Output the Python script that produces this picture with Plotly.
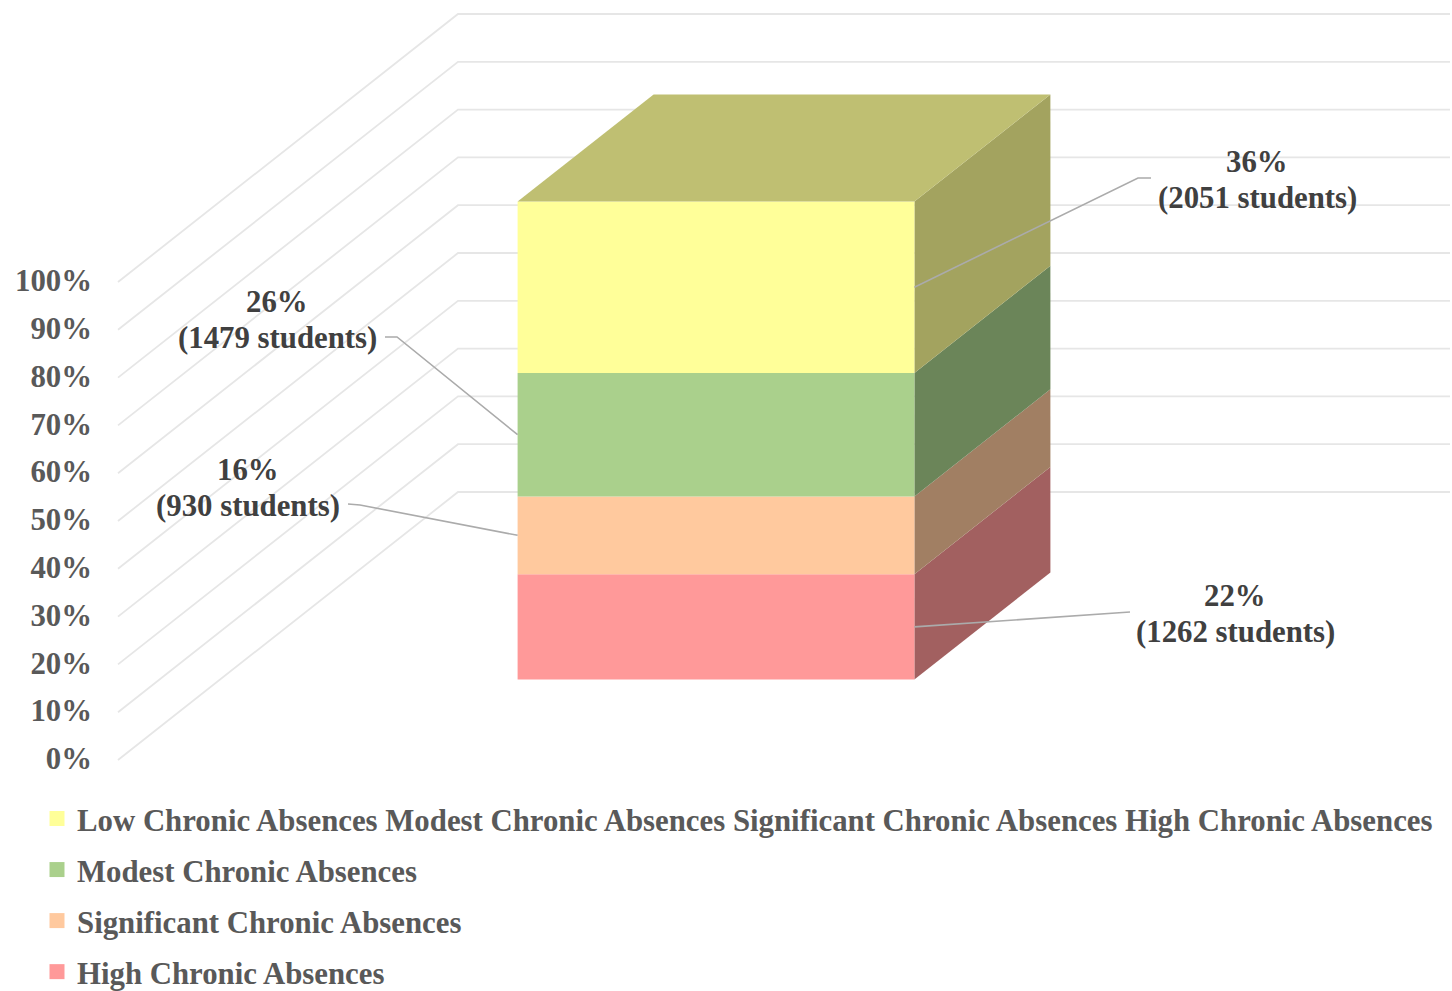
import plotly.graph_objects as go

# ---- data ----
categories = ["High Chronic Absences", "Significant Chronic Absences", "Modest Chronic Absences", "Low Chronic Absences"]
students = [1262, 930, 1479, 2051]
percent_labels = ["22%", "16%", "26%", "36%"]
legend_names = [
    "Low Chronic Absences Modest Chronic Absences Significant Chronic Absences High Chronic Absences",
    "Modest Chronic Absences",
    "Significant Chronic Absences",
    "High Chronic Absences",
]
tick_values = [0, 10, 20, 30, 40, 50, 60, 70, 80, 90, 100]

# ---- styling ----
front = ["#FF9999", "#FFC99E", "#AAD08C", "#FFFF99"]
side = ["#A26060", "#A17F63", "#6B8559", "#A3A35F"]
top_colour = "#BFBF72"
grid = "#E6E6E6"
leader = "#ABABAB"
FONT = "Liberation Serif"
FS = 30.8
W, H = 1452, 991

# oblique projection of the 3-D chart box onto the page
X0, Y0, BOX_W, UNIT_H, DEPTH_X, DEPTH_Y = 118, 760, 992, 4.78, 340, 268
BAR_A, BAR_B = 0.3, 0.7


def proj(x, y, z):
    return X0 + BOX_W * x + DEPTH_X * z, Y0 - UNIT_H * y - DEPTH_Y * z


def poly(points, colour, name=""):
    pts = [proj(*p) for p in points]
    return go.Scatter(
        x=[p[0] for p in pts] + [pts[0][0]],
        y=[p[1] for p in pts] + [pts[0][1]],
        mode="lines", fill="toself", fillcolor=colour, line=dict(width=0),
        hoverinfo="skip", showlegend=False, name=name,
    )


fig = go.Figure()

# gridlines on the side wall and back wall
for v in tick_values:
    pts = [proj(0, v, 0), proj(0, v, 1), proj(1, v, 1)]
    fig.add_trace(go.Scatter(x=[p[0] for p in pts], y=[p[1] for p in pts], mode="lines",
                             line=dict(color=grid, width=1.8), hoverinfo="skip", showlegend=False))

total = sum(students)
base = 0.0
mids = []
for s, cat, f, sd in zip(students, categories, front, side):
    h = 100 * s / total
    lo, hi = base, base + h
    fig.add_trace(poly([(BAR_B, lo, BAR_A), (BAR_B, lo, BAR_B), (BAR_B, hi, BAR_B), (BAR_B, hi, BAR_A)], sd, cat))
    fig.add_trace(poly([(BAR_A, lo, BAR_A), (BAR_B, lo, BAR_A), (BAR_B, hi, BAR_A), (BAR_A, hi, BAR_A)], f, cat))
    mids.append((lo + hi) / 2)
    base = hi
fig.add_trace(poly([(BAR_A, base, BAR_A), (BAR_B, base, BAR_A), (BAR_B, base, BAR_B), (BAR_A, base, BAR_B)], top_colour))

# leader lines: bar-edge anchor (from the data), then elbow and label end on the page
leaders = [
    (BAR_B, (1115, 613), (1130, 612)),
    (BAR_A, (360, 505), (348, 504)),
    (BAR_A, (397, 337), (385, 337)),
    (BAR_B, (1138, 178), (1151, 178)),
]
for (edge, elbow, end), m in zip(leaders, mids):
    ax, ay = proj(edge, m, BAR_A)
    fig.add_trace(go.Scatter(x=[ax, elbow[0], end[0]], y=[ay, elbow[1], end[1]], mode="lines",
                             line=dict(color=leader, width=1.6), hoverinfo="skip", showlegend=False))

# data labels (percentage line, count line)
label_pos = [(1235, 596, 632), (248, 470, 506), (277, 302, 338), (1257, 162, 198)]
for (lx, ly1, ly2), s, p in zip(label_pos, students, percent_labels):
    fig.add_annotation(x=lx, y=ly1, text=p, showarrow=False,
                       font=dict(family=FONT, size=FS, color="#404040", weight="bold"))
    fig.add_annotation(x=lx, y=ly2, text=f"({s} students)", showarrow=False,
                       font=dict(family=FONT, size=FS, color="#404040", weight="bold"))

# legend proxies
for i, (name, colour) in enumerate(zip(legend_names, reversed(front))):
    fig.add_trace(go.Scatter(x=[None], y=[None], mode="markers", name=name, legendgroup=f"g{i}",
                             marker=dict(symbol="square", size=15, color=colour)))

# real value axis
fig.add_trace(go.Scatter(x=[0], y=[0], xaxis="x2", yaxis="y2", mode="markers",
                         marker=dict(opacity=0, size=1), hoverinfo="skip", showlegend=False))

LABEL_SHIFT = 1.5
fig.update_layout(
    width=W, height=H, margin=dict(l=0, r=0, t=0, b=0, autoexpand=False),
    paper_bgcolor="white", plot_bgcolor="rgba(0,0,0,0)",
    xaxis=dict(range=[0, W], visible=False, domain=[0, 1]),
    yaxis=dict(range=[H, 0], visible=False, domain=[0, 1]),
    xaxis2=dict(range=[0, 1], visible=False, domain=[0, 1], anchor="y2"),
    yaxis2=dict(range=[0, 100],
                domain=[(H - Y0 + LABEL_SHIFT) / H, (H - Y0 + LABEL_SHIFT + 100 * UNIT_H) / H],
                anchor="free", position=X0 / W, side="left", tickmode="array",
                tickvals=tick_values, ticktext=[f"{v}%" for v in tick_values],
                showgrid=False, zeroline=False, showline=False, ticks="",
                ticklabelstandoff=26,
                tickfont=dict(family=FONT, size=FS, color="#595959", weight="bold")),
    showlegend=True,
    legend=dict(x=37 / W, xanchor="left", y=(H - 792) / H, yanchor="top", orientation="v",
                traceorder="grouped", tracegroupgap=8, itemsizing="trace",
                bgcolor="rgba(0,0,0,0)", borderwidth=0,
                font=dict(family=FONT, size=FS, color="#595959", weight="bold")),
)

fig.write_html("out.html", config={"displayModeBar": False},
               post_script="document.body.style.margin='0';")
